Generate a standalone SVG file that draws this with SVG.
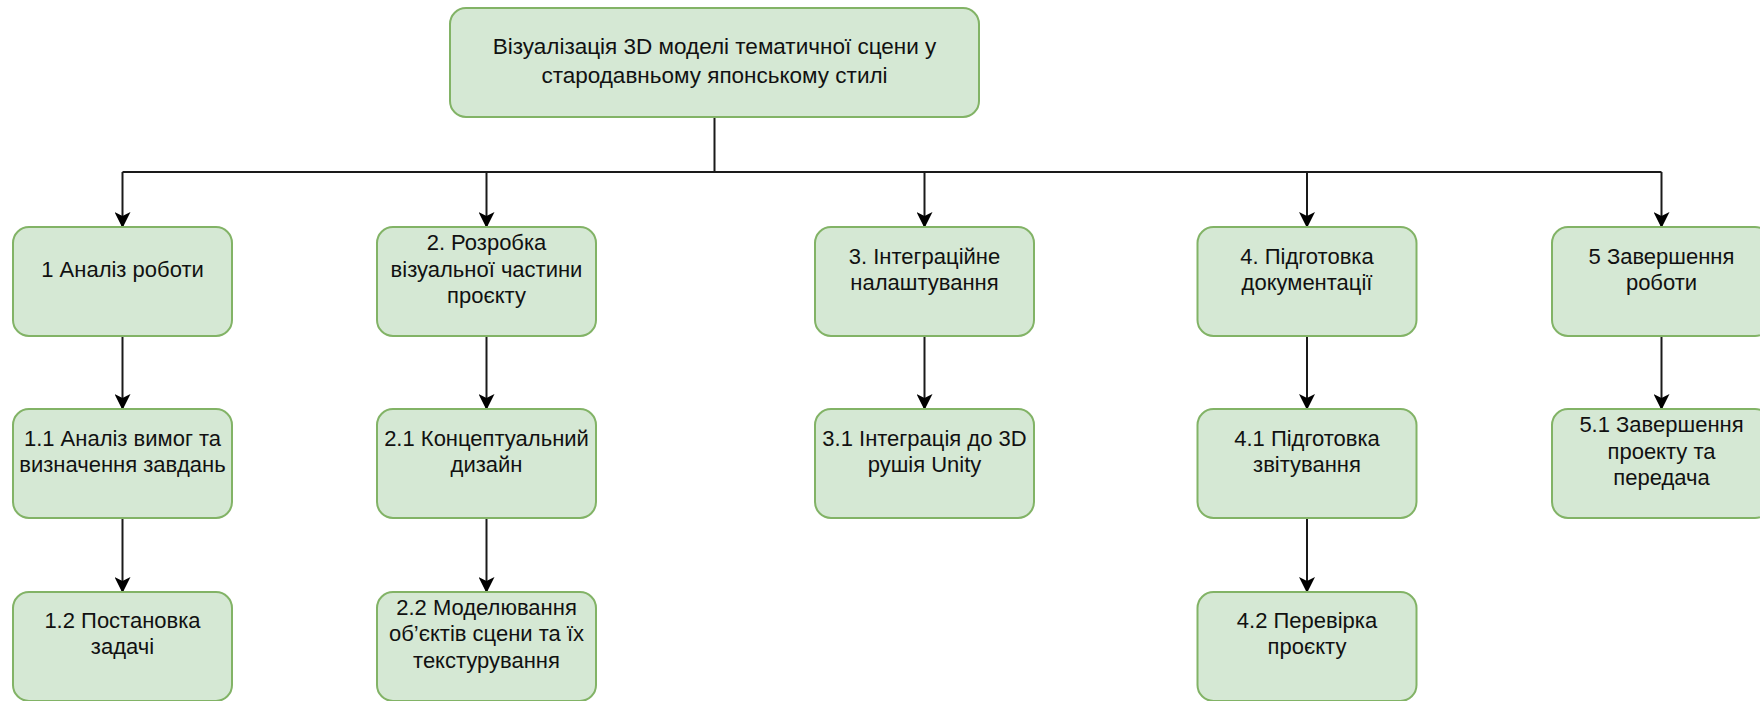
<svg xmlns="http://www.w3.org/2000/svg" width="1760" height="701" viewBox="0 0 1760 701">
  <style>
    .box { fill: #d5e8d4; stroke: #82b366; stroke-width: 2; }
    .lbl { font-family: "Liberation Sans", Arial, Helvetica, sans-serif; font-size: 22px; fill: #111111; text-anchor: middle; }
    .edge { fill: none; stroke: #1a1a1a; stroke-width: 2; }
    .arrow { marker-end: url(#head); }
  </style>
  <defs>
    <marker id="head" markerUnits="userSpaceOnUse" viewBox="0 0 16 16" refX="15" refY="8" markerWidth="16" markerHeight="16" orient="auto">
      <path d="M0,0 L16,8 L0,16 L4,8 Z" fill="#000000"/>
    </marker>
  </defs>

  <rect width="1760" height="701" fill="#ffffff"/>

  <!-- connectors -->
  <g id="connectors">
    <path class="edge" d="M714.5,117 V172 M122.5,172 H1661.5"/>
    <path class="edge arrow" d="M122.5,172 V227"/>
    <path class="edge arrow" d="M486.5,172 V227"/>
    <path class="edge arrow" d="M924.5,172 V227"/>
    <path class="edge arrow" d="M1307,172 V227"/>
    <path class="edge arrow" d="M1661.5,172 V227"/>
    <path class="edge arrow" d="M122.5,336 V409"/>
    <path class="edge arrow" d="M122.5,518 V592"/>
    <path class="edge arrow" d="M486.5,336 V409"/>
    <path class="edge arrow" d="M486.5,518 V592"/>
    <path class="edge arrow" d="M924.5,336 V409"/>
    <path class="edge arrow" d="M1307,336 V409"/>
    <path class="edge arrow" d="M1307,518 V592"/>
    <path class="edge arrow" d="M1661.5,336 V409"/>
  </g>

  <!-- root -->
  <g id="root">
    <rect class="box" x="450" y="8" width="529" height="109" rx="16"/>
    <text class="lbl" x="714.5" y="54" style="font-size:22.5px">Візуалізація 3D моделі тематичної сцени у<tspan x="714.5" dy="29">стародавньому японському стилі</tspan></text>
  </g>

  <!-- level 1 -->
  <g id="n1">
    <rect class="box" x="13" y="227" width="219" height="109" rx="16"/>
    <text class="lbl" x="122.5" y="277">1 Аналіз роботи</text>
  </g>
  <g id="n2">
    <rect class="box" x="377" y="227" width="219" height="109" rx="16"/>
    <text class="lbl" x="486.5" y="250.4">2. Розробка<tspan x="486.5" dy="26.4">візуальної частини</tspan><tspan x="486.5" dy="26.4">проєкту</tspan></text>
  </g>
  <g id="n3">
    <rect class="box" x="815" y="227" width="219" height="109" rx="16"/>
    <text class="lbl" x="924.5" y="263.6">3. Інтеграційне<tspan x="924.5" dy="26.4">налаштування</tspan></text>
  </g>
  <g id="n4">
    <rect class="box" x="1197.5" y="227" width="219" height="109" rx="16"/>
    <text class="lbl" x="1307" y="263.6">4. Підготовка<tspan x="1307" dy="26.4">документації</tspan></text>
  </g>
  <g id="n5">
    <rect class="box" x="1552" y="227" width="219" height="109" rx="16"/>
    <text class="lbl" x="1661.5" y="263.6">5 Завершення<tspan x="1661.5" dy="26.4">роботи</tspan></text>
  </g>

  <!-- level 2 -->
  <g id="n1_1">
    <rect class="box" x="13" y="409" width="219" height="109" rx="16"/>
    <text class="lbl" x="122.5" y="445.6">1.1 Аналіз вимог та<tspan x="122.5" dy="26.4">визначення завдань</tspan></text>
  </g>
  <g id="n2_1">
    <rect class="box" x="377" y="409" width="219" height="109" rx="16"/>
    <text class="lbl" x="486.5" y="445.6">2.1 Концептуальний<tspan x="486.5" dy="26.4">дизайн</tspan></text>
  </g>
  <g id="n3_1">
    <rect class="box" x="815" y="409" width="219" height="109" rx="16"/>
    <text class="lbl" x="924.5" y="445.6">3.1 Інтеграція до 3D<tspan x="924.5" dy="26.4">рушія Unity</tspan></text>
  </g>
  <g id="n4_1">
    <rect class="box" x="1197.5" y="409" width="219" height="109" rx="16"/>
    <text class="lbl" x="1307" y="445.6">4.1 Підготовка<tspan x="1307" dy="26.4">звітування</tspan></text>
  </g>
  <g id="n5_1">
    <rect class="box" x="1552" y="409" width="219" height="109" rx="16"/>
    <text class="lbl" x="1661.5" y="432.4">5.1 Завершення<tspan x="1661.5" dy="26.4">проекту та</tspan><tspan x="1661.5" dy="26.4">передача</tspan></text>
  </g>

  <!-- level 3 -->
  <g id="n1_2">
    <rect class="box" x="13" y="592" width="219" height="109" rx="16"/>
    <text class="lbl" x="122.5" y="628">1.2 Постановка<tspan x="122.5" dy="26.4">задачі</tspan></text>
  </g>
  <g id="n2_2">
    <rect class="box" x="377" y="592" width="219" height="109" rx="16"/>
    <text class="lbl" x="486.5" y="615">2.2 Моделювання<tspan x="486.5" dy="26.4">об’єктів сцени та їх</tspan><tspan x="486.5" dy="26.4">текстурування</tspan></text>
  </g>
  <g id="n4_2">
    <rect class="box" x="1197.5" y="592" width="219" height="109" rx="16"/>
    <text class="lbl" x="1307" y="628">4.2 Перевірка<tspan x="1307" dy="26.4">проєкту</tspan></text>
  </g>
</svg>
